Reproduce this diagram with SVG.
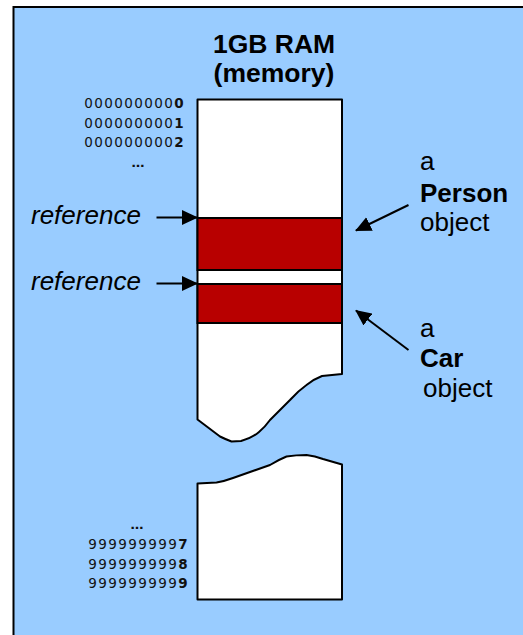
<svg xmlns="http://www.w3.org/2000/svg" width="523" height="635" viewBox="0 0 523 635">
<style>
.bg{fill:#99ccff;stroke:#000;stroke-width:2}
.mem{fill:#fff;stroke:#000;stroke-width:2;stroke-linejoin:round}
.obj{fill:#b80000;stroke:#000;stroke-width:2}
.addr{font-family:"DejaVu Sans",Verdana,sans-serif;font-size:13.5px;letter-spacing:1.4px;fill:#111;text-anchor:end}
.addr tspan.b{font-weight:bold}
.dots{font-family:"DejaVu Sans",sans-serif;font-size:13px;font-weight:bold;fill:#111;text-anchor:middle}
.title{font-family:"Liberation Sans",Arial,sans-serif;font-size:26.5px;font-weight:bold;fill:#000;text-anchor:middle}
.lbl{font-family:"Liberation Sans",Arial,sans-serif;font-size:26px;fill:#000}
.ref{font-style:italic}
.bold{font-weight:bold}
.conn{stroke:#000;stroke-width:2;fill:none}
</style>
<defs>
<marker id="ah" markerUnits="userSpaceOnUse" markerWidth="16" markerHeight="16" viewBox="0 0 16 16" refX="15" refY="8" orient="auto">
<path d="M0,0.5 L16,8 L0,15.5 Z" fill="#000"/>
</marker>
</defs>
<rect class="bg" x="13.5" y="7" width="530" height="650"/>
<g id="title">
<text class="title" x="274" y="53">1GB RAM</text>
<text class="title" x="274" y="82">(memory)</text>
</g>
<g id="memory-top">
<path class="mem" d="M197.5,99.5 L342,99.5 L342,374 L322,376 Q314,379 306.5,385 Q298,391 290,400 L270,420 Q265,427 259,432 Q252,438 241,441 L231.5,441.5 Q225,439 220,436.5 L197.5,419.5 Z"/>
</g>
<g id="person-object">
<rect class="obj" x="197.5" y="218" width="144.5" height="52"/>
</g>
<g id="car-object">
<rect class="obj" x="197.5" y="284" width="144.5" height="39"/>
</g>
<g id="memory-bottom">
<path class="mem" d="M197.5,483.5 L216.5,482.5 Q225,481 233,478 L270,465 Q278,460 286.5,456.5 Q296,455 306.5,455 Q315,456 323,459 L342,464.5 L342,599.5 L197.5,599.5 Z"/>
</g>
<g id="addresses-top">
<text class="addr" x="185" y="108">000000000<tspan class="b">0</tspan></text>
<text class="addr" x="185" y="127.5">000000000<tspan class="b">1</tspan></text>
<text class="addr" x="185" y="146.5">000000000<tspan class="b">2</tspan></text>
<text class="dots" x="138" y="167">…</text>
</g>
<g id="addresses-bottom">
<text class="dots" x="137" y="529">…</text>
<text class="addr" x="189" y="549">999999999<tspan class="b">7</tspan></text>
<text class="addr" x="189" y="568.5">999999999<tspan class="b">8</tspan></text>
<text class="addr" x="189" y="588">999999999<tspan class="b">9</tspan></text>
</g>
<g id="reference-1">
<text class="lbl ref" x="31" y="224">reference</text>
</g>
<g id="reference-2">
<text class="lbl ref" x="31" y="290">reference</text>
</g>
<g id="person-label">
<text class="lbl" x="420" y="170">a</text>
<text class="lbl bold" x="420" y="201.5">Person</text>
<text class="lbl" x="420" y="231">object</text>
</g>
<g id="car-label">
<text class="lbl" x="420" y="337">a</text>
<text class="lbl bold" x="420" y="367">Car</text>
<text class="lbl" x="423" y="397">object</text>
</g>
<g id="connectors">
<line class="conn" x1="156.5" y1="217.5" x2="197" y2="217.5" marker-end="url(#ah)"/>
<line class="conn" x1="156.5" y1="283.5" x2="197" y2="283.5" marker-end="url(#ah)"/>
<line class="conn" x1="408.5" y1="205" x2="356" y2="230.5" marker-end="url(#ah)"/>
<line class="conn" x1="408.5" y1="350" x2="356" y2="310.5" marker-end="url(#ah)"/>
</g>
</svg>
